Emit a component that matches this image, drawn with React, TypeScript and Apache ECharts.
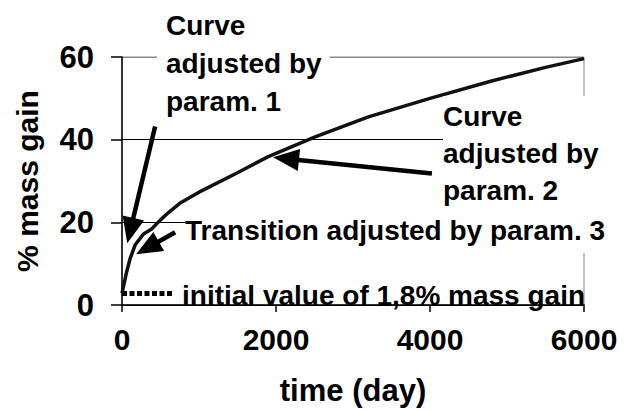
import React, { useEffect, useRef } from "react";
import * as echarts from "echarts";

// Curve (time in days, % mass gain)
const curveDays = [0, 60, 105, 170, 280, 385, 500, 600, 750, 1000, 1500, 1900, 2500, 3200, 4000, 4800, 5500, 6000];
const curveGain = [2.8, 8.0, 11.2, 14.5, 17.2, 18.4, 20.6, 22.3, 24.6, 27.3, 32.0, 35.9, 40.6, 45.5, 50.0, 54.2, 57.5, 59.6];

// initial value marker (dotted)
const initialDays = [0, 650];
const initialGain = [2.8, 2.8];

// arrows: [startX, startY, endX, endY]
const arrows = [
  [430, 43.2, 108, 18.0],
  [4025, 31.8, 2130, 35.4],
  [690, 17.6, 330, 13.8],
];

const xTicks = [0, 2000, 4000, 6000];
const yTicks = [0, 20, 40, 60];

const label1 = ["Curve", "adjusted by", "param. 1"];
const label2 = ["Curve", "adjusted by", "param. 2"];
const label3 = "Transition adjusted by param. 3";
const label4 = "initial value of 1,8% mass gain";

const FONT = "'Liberation Sans', Arial, sans-serif";

export default function App() {
  const ref = useRef<HTMLDivElement>(null);
  useEffect(() => {
    if (!ref.current) return;
    const chart = echarts.init(ref.current, undefined, { renderer: "svg" });
    const annText = {
      fontFamily: FONT,
      fontWeight: "bold" as const,
      fontSize: 28,
      fill: "#000",
      backgroundColor: "#fff",
    };
    chart.setOption({
      animation: false,
      backgroundColor: "#fff",
      textStyle: { fontFamily: FONT },
      grid: {
        left: 122,
        right: 41,
        top: 57,
        bottom: 104,
        show: true,
        borderColor: "#888",
        borderWidth: 1,
        backgroundColor: "transparent",
      },
      xAxis: {
        type: "value",
        min: xTicks[0],
        max: xTicks[xTicks.length - 1],
        interval: 2000,
        name: "time (day)",
        nameLocation: "middle",
        nameGap: 70,
        nameTextStyle: { fontSize: 31, fontWeight: "bold", color: "#000", fontFamily: FONT },
        axisLine: { show: true, lineStyle: { color: "#000", width: 1.5 } },
        axisTick: { show: true, length: 7, lineStyle: { color: "#000", width: 1.5 } },
        axisLabel: {
          fontSize: 30,
          fontWeight: "bold",
          color: "#000",
          margin: 19,
          fontFamily: FONT,
          formatter: (v: number) => String(v),
        },
        splitLine: { show: false },
      },
      yAxis: {
        type: "value",
        min: yTicks[0],
        max: yTicks[yTicks.length - 1],
        interval: 20,
        name: "% mass gain",
        nameLocation: "middle",
        nameGap: 80,
        nameTextStyle: { fontSize: 30, fontWeight: "bold", color: "#000", fontFamily: FONT },
        axisLine: { show: true, lineStyle: { color: "#000", width: 1.5 } },
        axisTick: { show: true, length: 11, lineStyle: { color: "#000", width: 1.5 } },
        axisLabel: {
          fontSize: 31,
          fontWeight: "bold",
          color: "#000",
          margin: 28,
          fontFamily: FONT,
          formatter: (v: number) => String(v),
        },
        splitLine: { show: true, lineStyle: { color: ["#000", "#000", "#000", "#888"], width: 1.2 } },
      },
      series: [
        {
          type: "line",
          data: curveDays.map((d, i) => [d, curveGain[i]]),
          showSymbol: false,
          smooth: false,
          lineStyle: { color: "#111", width: 3.5, join: "round" },
          z: 5,
          markLine: {
            silent: true,
            symbol: ["none", "triangle"],
            symbolSize: [22, 26],
            label: { show: false },
            lineStyle: { color: "#000", width: 4.5, type: "solid" },
            itemStyle: { color: "#000" },
            emphasis: { disabled: true },
            data: arrows.map((a) => [
              { coord: [a[0], a[1]] },
              { coord: [a[2], a[3]] },
            ]),
          },
        },
        {
          type: "line",
          data: initialDays.map((d, i) => [d, initialGain[i]]),
          showSymbol: false,
          lineStyle: { color: "#000", width: 5, type: [5, 2.5] },
          z: 4,
        },
      ],
      graphic: [
        {
          type: "text",
          z: 100,
          style: {
            ...annText,
            text: label1.join("\n"),
            x: 157,
            y: 6,
            lineHeight: 38,
            align: "left",
            verticalAlign: "top",
            padding: [0, 8, 2, 9],
          },
        },
        {
          type: "text",
          z: 100,
          style: {
            ...annText,
            text: label2.join("\n"),
            x: 443,
            y: 96,
            lineHeight: 37,
            align: "left",
            verticalAlign: "top",
            padding: [2, 20, 0, 0],
          },
        },
        {
          type: "text",
          z: 100,
          style: {
            ...annText,
            text: label3,
            x: 185,
            y: 230,
            lineHeight: 46,
            align: "left",
            verticalAlign: "middle",
            padding: [0, 10, 0, 0],
          },
        },
        {
          type: "text",
          z: 100,
          style: {
            ...annText,
            text: label4,
            x: 182,
            y: 295,
            lineHeight: 22,
            align: "left",
            verticalAlign: "middle",
            backgroundColor: "transparent",
          },
        },
      ],
    });
    return () => chart.dispose();
  }, []);
  return (
    <div
      ref={ref}
      style={{ position: "fixed", left: 0, top: 0, width: 625, height: 411 }}
    />
  );
}
